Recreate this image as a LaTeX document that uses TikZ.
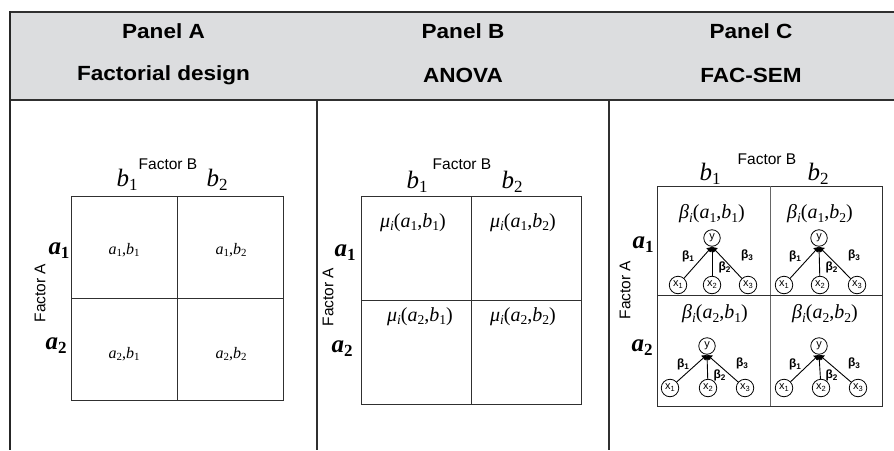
\documentclass[tikz,border=0pt]{standalone}
\usepackage{fontspec}
\setmainfont{Liberation Serif}
\setsansfont{Liberation Sans}
\usetikzlibrary{arrows.meta,calc}
\definecolor{hdrgray}{HTML}{DCDDDF}
\definecolor{linedark}{HTML}{303030}
\newcommand\lo[1]{\raisebox{-0.34ex}{\scalebox{0.68}{#1}}}
\newcommand\vv[2]{\textit{#1}\lo{#2}}
\newcommand\hx[1]{\scalebox{1.1}[1]{#1}}
\newcommand\semcell[7]{%
  % #1 prefix, #2 y x, #3 y y, #4 row offset, #5 left dx, #6 mid dx, #7 right dx
  \node[ynode] (#1y) at (#2,#3) {y};
  \coordinate (#1j) at (#1y.south);
  \node[xnode] (#1x1) at (#2+#5,#3+#4) {x\lo{1}};
  \node[xnode] (#1x2) at (#2+#6,#3+#4) {x\lo{2}};
  \node[xnode] (#1x3) at (#2+#7,#3+#4) {x\lo{3}};
  \draw[semarrow] (#1x1) -- (#1j);
  \draw[semarrow] (#1x2) -- (#1j);
  \draw[semarrow] (#1x3) -- (#1j);
  \node[blab] (#1b1) at (#2-24,#3+18) {β\lo{1}};
  \node[blab] (#1b2) at (#2+12.5,#3+29) {β\lo{2}};
  \node[blab] (#1b3) at (#2+35,#3+17) {β\lo{3}};
}
\begin{document}
\begin{tikzpicture}[x=1pt,y=-1pt,
  hdr/.style={font=\sffamily\bfseries\fontsize{20.5}{24}\selectfont, inner sep=0},
  fac/.style={font=\sffamily\fontsize{15.5}{18}\selectfont, inner sep=0},
  lvl/.style={font=\fontsize{25}{27}\selectfont, inner sep=0},
  cellA/.style={font=\fontsize{16}{18}\selectfont, inner sep=0},
  cellB/.style={font=\fontsize{20}{22}\selectfont, inner sep=0},
  cellC/.style={font=\fontsize{20}{22}\selectfont, inner sep=0},
  gridline/.style={draw=linedark, line width=1pt},
  ynode/.style={circle, draw=black, line width=0.8pt, minimum size=16.5pt, inner sep=0, font=\sffamily\fontsize{11}{11}\selectfont},
  xnode/.style={circle, draw=black, line width=0.8pt, minimum size=17.5pt, inner sep=0, font=\sffamily\fontsize{11}{11}\selectfont},
  blab/.style={font=\sffamily\bfseries\fontsize{12}{13}\selectfont, inner sep=0},
  semarrow/.style={draw=black, line width=0.9pt, -{Latex[length=5pt,width=7pt]}}]
\useasboundingbox (0,0) rectangle (894,450);
\fill[white] (0,0) rectangle (894,450);
% header
\fill[hdrgray] (10,12) rectangle (894,100);
\draw[linedark, line width=2pt] (10,12) -- (894,12);
\draw[linedark, line width=1.5pt] (10,100) -- (894,100);
\draw[black!85, line width=2.6pt] (10,11) -- (10,450);
\draw[linedark, line width=1.2pt] (317,100) -- (317,450);
\draw[linedark, line width=1.2pt] (609,100) -- (609,450);
\node[hdr] (hA1) at (163.5,31.5) {\hx{Panel A}};
\node[hdr] (hA2) at (163.5,75) {\hx{Factorial design}};
\node[hdr] (hB1) at (463,31.5) {\hx{Panel B}};
\node[hdr] (hB2) at (463,75) {\hx{ANOVA}};
\node[hdr] (hC1) at (751,31.5) {\hx{Panel C}};
\node[hdr] (hC2) at (751,75) {\hx{FAC-SEM}};
% ---------- Panel A
\draw[gridline] (71,196) rectangle (283,400);
\draw[gridline] (177,196) -- (177,400);
\draw[gridline] (71,298) -- (283,298);
\node[fac] (fbA) at (168,164) {Factor B};
\node[lvl] (b1A) at (127,180) {\vv{b}{1}};
\node[lvl] (b2A) at (217,180) {\vv{b}{2}};
\node[lvl] (a1A) at (59,251) {\textbf{\vv{a}{1}}};
\node[lvl] (a2A) at (56,346) {\textbf{\vv{a}{2}}};
\node[fac, rotate=90] (faA) at (40,293) {Factor A};
\node[cellA] (cA11) at (124,250) {\vv{a}{1},\vv{b}{1}};
\node[cellA] (cA12) at (231,250) {\vv{a}{1},\vv{b}{2}};
\node[cellA] (cA21) at (124,354) {\vv{a}{2},\vv{b}{1}};
\node[cellA] (cA22) at (231,354) {\vv{a}{2},\vv{b}{2}};
% ---------- Panel B
\draw[gridline] (361,196) rectangle (581,404);
\draw[gridline] (471,196) -- (471,404);
\draw[gridline] (361,300) -- (581,300);
\node[fac] (fbB) at (462,164) {Factor B};
\node[lvl] (b1B) at (417,182) {\vv{b}{1}};
\node[lvl] (b2B) at (512,182) {\vv{b}{2}};
\node[lvl] (a1B) at (345,253) {\textbf{\vv{a}{1}}};
\node[lvl] (a2B) at (342,349) {\textbf{\vv{a}{2}}};
\node[fac, rotate=90] (faB) at (328,297) {Factor A};
\node[cellB] (cB11) at (413,223) {\vv{μ}{\textit{i}}(\vv{a}{1},\vv{b}{1})};
\node[cellB] (cB12) at (523,223) {\vv{μ}{\textit{i}}(\vv{a}{1},\vv{b}{2})};
\node[cellB] (cB21) at (420,317) {\vv{μ}{\textit{i}}(\vv{a}{2},\vv{b}{1})};
\node[cellB] (cB22) at (523,317) {\vv{μ}{\textit{i}}(\vv{a}{2},\vv{b}{2})};
% ---------- Panel C
\draw[gridline] (657,186) rectangle (882,406);
\draw[draw=black!60, line width=1pt] (770,186) -- (770,406);
\draw[gridline] (657,295) -- (882,295);
\node[fac] (fbC) at (767,159) {Factor B};
\node[lvl] (b1C) at (710,174) {\vv{b}{1}};
\node[lvl] (b2C) at (818,174) {\vv{b}{2}};
\node[lvl] (a1C) at (643,245) {\textbf{\vv{a}{1}}};
\node[lvl] (a2C) at (642,348) {\textbf{\vv{a}{2}}};
\node[fac, rotate=90] (faC) at (625,290) {Factor A};
\node[cellC] (cC11) at (712,214) {\vv{β}{\textit{i}}(\vv{a}{1},\vv{b}{1})};
\node[cellC] (cC12) at (820,214) {\vv{β}{\textit{i}}(\vv{a}{1},\vv{b}{2})};
\node[cellC] (cC21) at (715,314) {\vv{β}{\textit{i}}(\vv{a}{2},\vv{b}{1})};
\node[cellC] (cC22) at (825,314) {\vv{β}{\textit{i}}(\vv{a}{2},\vv{b}{2})};
\semcell{p}{712}{238}{47}{-34}{0}{36}
\semcell{q}{819}{238}{47}{-35}{1}{38}
\semcell{r}{707}{346}{42}{-37}{1}{38}
\semcell{s}{819}{346}{42}{-35}{2}{39}
\end{tikzpicture}
\end{document}
